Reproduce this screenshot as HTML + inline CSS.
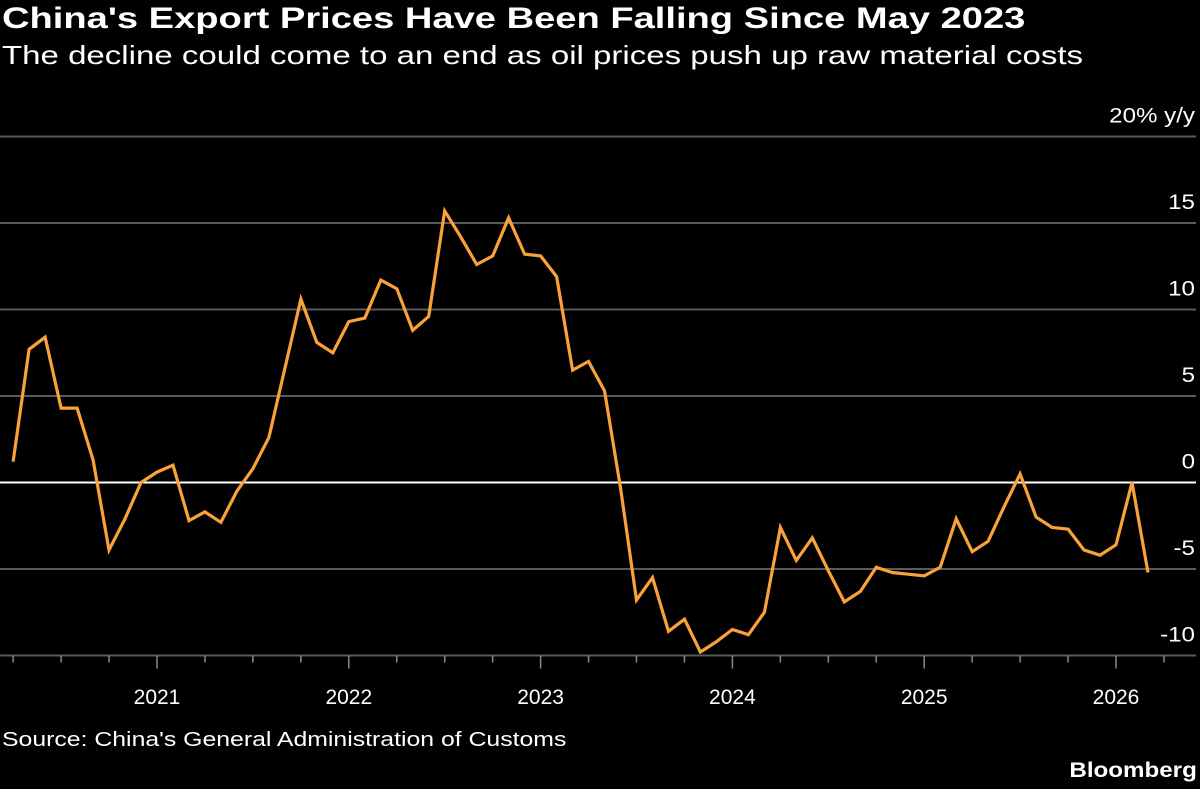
<!DOCTYPE html>
<html><head><meta charset="utf-8"><style>
html,body{margin:0;padding:0;background:#000;}
body{width:1200px;height:789px;overflow:hidden;font-family:"Liberation Sans",sans-serif;color:#fff;position:relative}
.t{position:absolute;white-space:nowrap}
</style></head><body>
<div class="t" style="left:2px;top:2px;font-size:30px;font-weight:bold;transform:scaleX(1.27);transform-origin:0 0;">China's Export Prices Have Been Falling Since May 2023</div>
<div class="t" style="left:2px;top:40px;font-size:26px;transform:scaleX(1.27);transform-origin:0 0;">The decline could come to an end as oil prices push up raw material costs</div>
<svg id="chart" width="1200" height="789" style="position:absolute;left:0;top:0"></svg>
<div class="t" style="left:2px;top:729px;font-size:20px;transform:scaleX(1.24);transform-origin:0 0;">Source: China's General Administration of Customs</div>
<div class="t" style="right:3px;top:759px;font-size:21px;font-weight:bold;transform:scaleX(1.15);transform-origin:100% 0;">Bloomberg</div>
<script>
const startYear = 2020, startMonth = 4;
const values = [1.2,7.7,8.4,4.3,4.3,1.3,-3.9,-2.1,0,
0.6,1.0,-2.2,-1.7,-2.3,-0.5,0.8,2.6,6.6,10.6,8.1,7.5,
9.3,9.5,11.7,11.2,8.8,9.6,15.7,14.2,12.6,13.1,15.3,13.2,
13.1,11.9,6.5,7.0,5.3,-0.3,-6.8,-5.5,-8.6,-7.9,-9.8,-9.2,
-8.5,-8.8,-7.5,-2.6,-4.5,-3.2,-5.1,-6.9,-6.3,-4.9,-5.2,-5.3,
-5.4,-4.9,-2.1,-4.0,-3.4,-1.4,0.5,-2.0,-2.6,-2.7,-3.9,-4.2,
-3.6,0.0,-5.2];
const yTicks = [20,15,10,5,0,-5,-10];
const yTickLabels = ["20% y/y","15","10","5","0","-5","-10"];
const yearLabels = ["2021","2022","2023","2024","2025","2026"];

const NS="http://www.w3.org/2000/svg";
const svg=document.getElementById('chart');
const x0=157, perMonth=191.8/12;
function xMonth(i){ return x0+i*perMonth; }
function xIdx(k){ return xMonth((startYear-2021)*12+(startMonth-1)+k); }
function y(v){ return 482.5-(v*86.5/5); }
function mk(tag,attrs){const e=document.createElementNS(NS,tag);for(const k in attrs)e.setAttribute(k,attrs[k]);svg.appendChild(e);return e;}

yTicks.forEach((v,i)=>{
  const l=mk('line',{x1:0,x2:1196,y1:y(v),y2:y(v),stroke:v===0?'#fff':'#5a5a5a','stroke-width':2});
  
  
  const t=mk('text',{x:1195,y:y(v)-14,'text-anchor':'end',fill:'#fff','font-size':21,'font-family':'Liberation Sans, sans-serif',transform:'translate(1195,0) scale(1.15,1) translate(-1195,0)'});
  t.textContent=yTickLabels[i];
  
  
});
for(let m=-9;m<=63;m+=3){
  const x=xMonth(m);
  const isYear=(m%12===0);
  const tk=mk('line',{x1:x,x2:x,y1:y(-10),y2:y(-10)+(isYear?13:7),stroke:'#888','stroke-width':1.5});
  
  
}
yearLabels.forEach((lab,i)=>{
  const t=mk('text',{x:xMonth(i*12),y:704,'text-anchor':'middle',fill:'#fff','font-size':21,'font-family':'Liberation Sans, sans-serif'});
  t.textContent=lab;
  
  
});
const pts=values.map((v,k)=>xIdx(k).toFixed(1)+','+y(v).toFixed(1)).join(' ');
const pl=mk('polyline',{points:pts,fill:'none',stroke:'#f9a23a','stroke-width':3.2,'stroke-linejoin':'miter'});


</script>
</body></html>
